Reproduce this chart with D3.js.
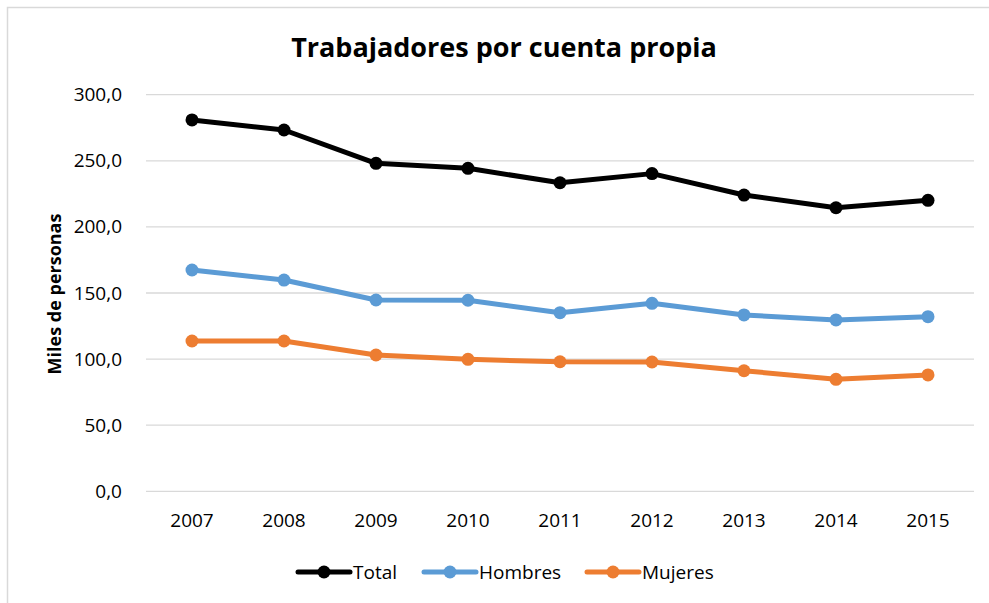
<!DOCTYPE html>
<html>
<head>
<meta charset="utf-8">
<script src="https://cdn.jsdelivr.net/npm/d3@7"></script>
<style>
  body { margin: 0; background: #fff; }
  text { font-family: "Open Sans", sans-serif; fill: #000; }
</style>
</head>
<body>
<div id="chart"></div>
<script>
// data
const years = ["2007", "2008", "2009", "2010", "2011", "2012", "2013", "2014", "2015"]
const total = [280.9, 273.3, 248.1, 244.3, 233.4, 240.3, 224.1, 214.5, 220.1]
const hombres = [167.4, 159.8, 144.7, 144.5, 135.1, 142.2, 133.4, 129.6, 132.1]
const mujeres = [113.7, 113.7, 103.1, 99.8, 98.0, 97.8, 91.2, 84.7, 88.0]
const yTicks = [0, 50, 100, 150, 200, 250, 300]

const series = [
  {name: "Total", values: total, color: "#000000"},
  {name: "Hombres", values: hombres, color: "#5b9bd5"},
  {name: "Mujeres", values: mujeres, color: "#ed7d31"}
]

const width = 989, height = 603
const margin = {top: 94.7, right: 15, bottom: 111.7, left: 146}

const svg = d3.select("#chart").append("svg")
  .attr("width", width)
  .attr("height", height)

// chart area border (only top and left are inside the frame)
svg.append("rect")
  .attr("x", 7.5).attr("y", 7.5)
  .attr("width", width + 20).attr("height", height + 20)
  .attr("fill", "none")
  .attr("stroke", "#d9d9d9")
  .attr("stroke-width", 1.5)

const x = d3.scaleBand()
  .domain(years)
  .range([margin.left, width - margin.right])

const y = d3.scaleLinear()
  .domain([0, 300])
  .range([height - margin.bottom, margin.top])

// gridlines
svg.append("g")
  .selectAll("line")
  .data(yTicks)
  .join("line")
  .attr("x1", margin.left)
  .attr("x2", width - margin.right)
  .attr("y1", d => y(d))
  .attr("y2", d => y(d))
  .attr("stroke", "#d9d9d9")
  .attr("stroke-width", 1.3)

// y axis labels
const yAxis = svg.append("g")
  .attr("transform", "translate(" + (margin.left - 21) + ",0)")
  .call(d3.axisLeft(y).tickValues(yTicks).tickSize(0)
    .tickFormat(d => d3.format(".1f")(d).replace(".", ",")))
yAxis.select(".domain").remove()
yAxis.selectAll("text")
  .attr("font-size", 19)
  .attr("font-family", "Open Sans")
  .attr("fill", "#000")

// x axis labels
const xAxis = svg.append("g")
  .attr("transform", "translate(0," + (height - margin.bottom + 19) + ")")
  .call(d3.axisBottom(x).tickSize(0))
xAxis.select(".domain").remove()
xAxis.selectAll("text")
  .attr("font-size", 19)
  .attr("font-family", "Open Sans")
  .attr("fill", "#000")

// title
svg.append("text")
  .attr("x", 504)
  .attr("y", 57)
  .attr("text-anchor", "middle")
  .attr("font-size", 27)
  .attr("font-weight", "bold")
  .text("Trabajadores por cuenta propia")

// y axis title
svg.append("text")
  .attr("transform", "translate(61,294) rotate(-90)")
  .attr("text-anchor", "middle")
  .attr("font-size", 18)
  .attr("font-weight", "bold")
  .text("Miles de personas")

const cx = d => x(d) + x.bandwidth() / 2
const line = d3.line()
  .x((d, i) => cx(years[i]))
  .y(d => y(d))

series.forEach(s => {
  svg.append("path")
    .datum(s.values)
    .attr("fill", "none")
    .attr("stroke", s.color)
    .attr("stroke-width", 5)
    .attr("stroke-linejoin", "round")
    .attr("d", line)
  svg.append("g")
    .selectAll("circle")
    .data(s.values)
    .join("circle")
    .attr("cx", (d, i) => cx(years[i]))
    .attr("cy", d => y(d))
    .attr("r", 6.5)
    .attr("fill", s.color)
})

// legend
const legendX = [298, 424, 587]
const legend = svg.append("g")
  .selectAll("g")
  .data(series)
  .join("g")
  .attr("transform", (d, i) => "translate(" + legendX[i] + ",572)")
legend.append("line")
  .attr("x1", 0).attr("x2", 52)
  .attr("stroke", d => d.color)
  .attr("stroke-width", 5)
  .attr("stroke-linecap", "round")
legend.append("circle")
  .attr("cx", 26)
  .attr("r", 6.5)
  .attr("fill", d => d.color)
legend.append("text")
  .attr("x", 55)
  .attr("dy", "0.35em")
  .attr("font-size", 19)
  .text(d => d.name)
</script>
</body>
</html>
